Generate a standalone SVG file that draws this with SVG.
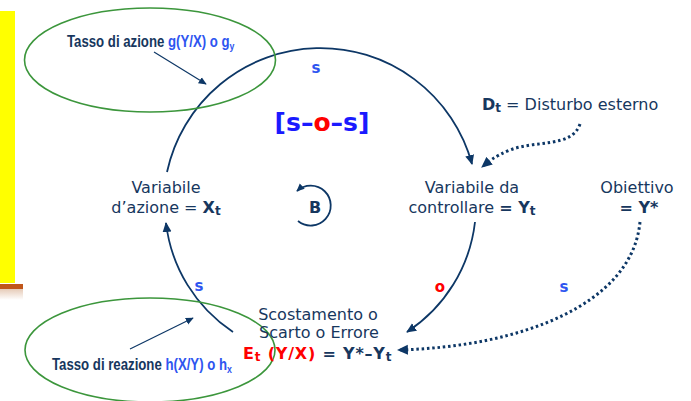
<svg xmlns="http://www.w3.org/2000/svg" width="691" height="401" viewBox="0 0 691 401">
<defs>
<marker id="ah" markerUnits="userSpaceOnUse" markerWidth="10" markerHeight="10" viewBox="0 0 10 10" refX="9" refY="5" orient="auto"><path d="M0,0.5 L10,5 L0,9.5 Z" fill="#0d3766"/></marker>
<marker id="ahs" markerUnits="userSpaceOnUse" markerWidth="8" markerHeight="8" viewBox="0 0 10 10" refX="9" refY="5" orient="auto"><path d="M0,0.5 L10,5 L0,9.5 Z" fill="#0d3766"/></marker>
<marker id="ahd" markerUnits="userSpaceOnUse" markerWidth="11" markerHeight="11" viewBox="0 0 10 10" refX="9" refY="5" orient="auto"><path d="M0,0.5 L10,5 L0,9.5 Z" fill="#0d3766"/></marker>
<linearGradient id="sh" x1="0" y1="0" x2="0" y2="1"><stop offset="0" stop-color="#e6cbb8"/><stop offset="1" stop-color="#ffffff"/></linearGradient>
<style>
.t{font-family:"DejaVu Sans",Verdana,sans-serif;fill:#17375e;font-size:16px}
.b{font-weight:bold}
.n{font-family:"Liberation Sans",Arial,sans-serif;font-weight:bold;font-size:16.5px;fill:#17375e}
.bl{fill:#2e55f0}
.rd{fill:#ff0000}
.lbl{font-family:"DejaVu Sans",Verdana,sans-serif;font-weight:bold;font-size:15px;text-anchor:middle}
.arc{fill:none;stroke:#0d3766;stroke-width:1.8}
.dot{fill:none;stroke:#0d3766;stroke-width:3;stroke-dasharray:2.5 2.8}
.ptr{fill:none;stroke:#0d3766;stroke-width:1.2}
.ell{fill:none;stroke:#3c963c;stroke-width:1.6}
</style>
</defs>
<rect width="691" height="401" fill="#ffffff"/>
<g id="sidebar">
<rect x="0" y="11" width="15" height="272" fill="#ffff00"/>
<rect x="0" y="284" width="23" height="5" fill="#c0561a"/>
<rect x="0" y="289" width="23" height="11" fill="url(#sh)"/>
</g>
<g id="connectors">
<path class="arc" d="M167,172 A157,157 0 0 1 472,164" marker-end="url(#ah)"/>
<path class="arc" d="M475,222 A152,152 0 0 1 407,332" marker-end="url(#ah)"/>
<path class="arc" d="M233,332 A152,152 0 0 1 166,223" marker-end="url(#ah)"/>
<path class="dot" d="M580,124 C572,148 535,140 510,150 C495,156 488,162 482,167" marker-end="url(#ahd)"/>
<path class="dot" d="M640,222 C632,305 520,347 398,350" marker-end="url(#ahd)"/>
<path class="ptr" d="M154,52 L206,84" marker-end="url(#ahs)"/>
<path class="ptr" d="M130,349 L193,318" marker-end="url(#ahs)"/>
<path class="arc" d="M298,221 A20,20 0 1 0 297,191" stroke-width="1.5" marker-end="url(#ahs)"/>
</g>
<g id="ellipse-azione">
<ellipse class="ell" cx="150" cy="60" rx="125.5" ry="52"/>
<text class="n" transform="translate(67,47) scale(0.8,1)">Tasso di azione <tspan class="bl">g(Y/X) o g<tspan font-size="11" dy="3">y</tspan></tspan></text>
</g>
<g id="ellipse-reazione">
<ellipse class="ell" cx="150" cy="350" rx="125" ry="52"/>
<text class="n" transform="translate(52,370) scale(0.8,1)">Tasso di reazione <tspan class="bl">h(X/Y) o h<tspan font-size="11" dy="3">x</tspan></tspan></text>
</g>
<g id="sos">
<text x="322" y="131" text-anchor="middle" font-family="DejaVu Sans, Verdana, sans-serif" font-weight="bold" font-size="25" fill="#1a1aff">[s–<tspan fill="#ff0000">o</tspan>–s]</text>
</g>
<g id="labels">
<text class="lbl bl" x="316" y="73">s</text>
<text class="lbl bl" x="199" y="291">s</text>
<text class="lbl rd" x="440" y="292">o</text>
<text class="lbl bl" x="564" y="292">s</text>
</g>
<g id="variabile-azione">
<text class="t" x="166" y="193" text-anchor="middle">Variabile</text>
<text class="t" x="166" y="213" text-anchor="middle">d’azione = <tspan class="b">X<tspan font-size="12" dy="2">t</tspan></tspan></text>
</g>
<g id="variabile-controllare">
<text class="t" x="472" y="193" text-anchor="middle">Variabile da</text>
<text class="t" x="472" y="213" text-anchor="middle">controllare <tspan class="b">= Y<tspan font-size="12" dy="2">t</tspan></tspan></text>
</g>
<g id="obiettivo">
<text class="t" x="637" y="193" text-anchor="middle">Obiettivo</text>
<text class="t b" x="639" y="213" text-anchor="middle">= Y*</text>
</g>
<g id="disturbo">
<text class="t" x="482" y="110"><tspan class="b">D<tspan font-size="12" dy="2">t</tspan></tspan><tspan dy="-2"> = Disturbo esterno</tspan></text>
</g>
<g id="loop-b">
<text class="t b" x="315" y="213" text-anchor="middle" font-size="18">B</text>
</g>
<g id="scostamento">
<text class="t" x="318" y="320" text-anchor="middle">Scostamento o</text>
<text class="t" x="319" y="338" text-anchor="middle">Scarto o Errore</text>
<text class="t b" x="243" y="359" letter-spacing="0.8"><tspan class="rd">E<tspan font-size="12" dy="2">t</tspan><tspan dy="-2"> (Y/X)</tspan></tspan>  = Y*–Y<tspan font-size="12" dy="2">t</tspan></text>
</g>
</svg>
